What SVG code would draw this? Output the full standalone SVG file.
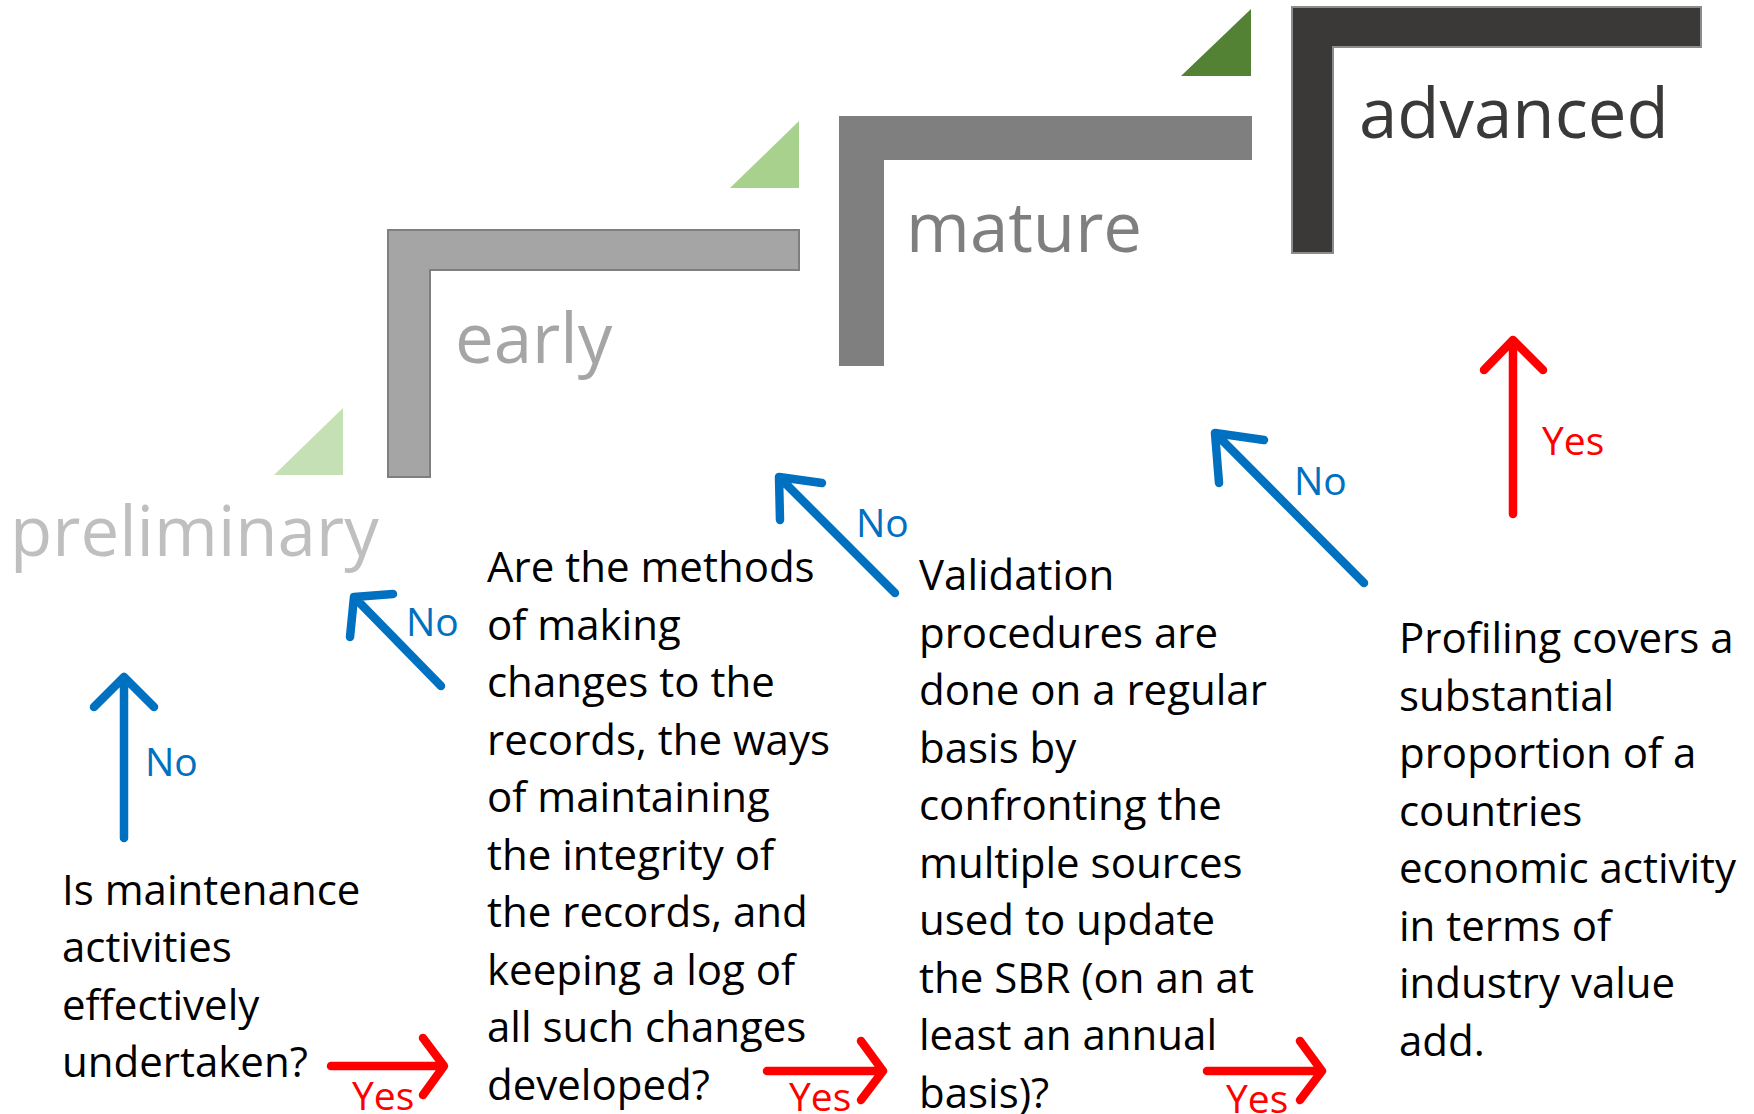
<svg xmlns="http://www.w3.org/2000/svg" width="1754" height="1114" viewBox="0 0 1754 1114">
  <style>
    .stage { font-family: "Open Sans", "Noto Sans", sans-serif; font-size: 69px; }
    .body { font-family: "Open Sans", "Noto Sans", sans-serif; font-size: 42px; fill: #000000; }
    .lbl { font-family: "Open Sans", "Noto Sans", sans-serif; font-size: 39px; }
    .no { fill: #0070c0; }
    .yes { fill: #ff0000; }
    .arr { fill: none; stroke-width: 8.5; stroke-linecap: round; stroke-linejoin: round; }
    .arr-no { stroke: #0070c0; }
    .arr-yes { stroke: #ff0000; }
  </style>
  <rect width="1754" height="1114" fill="#ffffff"/>

  <!-- maturity steps -->
  <g id="stage-preliminary">
    <polygon points="274,475 343,408 343,475" fill="#c5e0b4"/>
    <text class="stage" x="10" y="556" fill="#bfbfbf">preliminary</text>
  </g>
  <g id="stage-early">
    <polygon points="730,188 799,121 799,188" fill="#a9d18e"/>
    <path d="M388,230 H799 V270 H430 V477 H388 Z" fill="#a5a5a5" stroke="#7f7f7f" stroke-width="2"/>
    <text class="stage" x="455" y="363" fill="#a5a5a5">early</text>
  </g>
  <g id="stage-mature">
    <path d="M840,117 H1251 V159 H883 V365 H840 Z" fill="#7f7f7f" stroke="#7f7f7f" stroke-width="2"/>
    <text class="stage" x="906" y="252" fill="#7f7f7f">mature</text>
  </g>
  <g id="stage-advanced">
    <polygon points="1181,76 1251,9 1251,76" fill="#548235"/>
    <path d="M1292,7 H1701 V47 H1333 V253 H1292 Z" fill="#3b3838" stroke="#8c8c8c" stroke-width="2"/>
    <text class="stage" x="1359" y="138" fill="#3b3838">advanced</text>
  </g>

  <!-- questions -->
  <g id="q-maintenance">
    <text class="body">
      <tspan x="62" y="905">Is maintenance</tspan>
      <tspan x="62" y="962">activities</tspan>
      <tspan x="62" y="1020">effectively</tspan>
      <tspan x="62" y="1077">undertaken?</tspan>
    </text>
  </g>
  <g id="q-methods">
    <text class="body">
      <tspan x="487" y="582">Are the methods</tspan>
      <tspan x="487" y="640">of making</tspan>
      <tspan x="487" y="697">changes to the</tspan>
      <tspan x="487" y="755">records, the ways</tspan>
      <tspan x="487" y="812">of maintaining</tspan>
      <tspan x="487" y="870">the integrity of</tspan>
      <tspan x="487" y="927">the records, and</tspan>
      <tspan x="487" y="985">keeping a log of</tspan>
      <tspan x="487" y="1042">all such changes</tspan>
      <tspan x="487" y="1100">developed?</tspan>
    </text>
  </g>
  <g id="q-validation">
    <text class="body">
      <tspan x="919" y="590">Validation</tspan>
      <tspan x="919" y="648">procedures are</tspan>
      <tspan x="919" y="705">done on a regular</tspan>
      <tspan x="919" y="763">basis by</tspan>
      <tspan x="919" y="820">confronting the</tspan>
      <tspan x="919" y="878">multiple sources</tspan>
      <tspan x="919" y="935">used to update</tspan>
      <tspan x="919" y="993">the SBR (on an at</tspan>
      <tspan x="919" y="1050">least an annual</tspan>
      <tspan x="919" y="1108">basis)?</tspan>
    </text>
  </g>
  <g id="q-profiling">
    <text class="body">
      <tspan x="1399" y="653">Profiling covers a</tspan>
      <tspan x="1399" y="711">substantial</tspan>
      <tspan x="1399" y="768">proportion of a</tspan>
      <tspan x="1399" y="826">countries</tspan>
      <tspan x="1399" y="883">economic activity</tspan>
      <tspan x="1399" y="941">in terms of</tspan>
      <tspan x="1399" y="998">industry value</tspan>
      <tspan x="1399" y="1056">add.</tspan>
    </text>
  </g>

  <!-- decision arrows -->
  <g id="connectors">
    <path class="arr arr-no" d="M124,838 V677 M94,707 L124,677 L154,707"/>
    <text class="lbl no" x="145" y="776">No</text>

    <path class="arr arr-no" d="M441,686 L356,599 M393,594 L354,597 L350,637"/>
    <text class="lbl no" x="406" y="636">No</text>

    <path class="arr arr-no" d="M895,593 L781,479 M822,483 L779,477 L780,520"/>
    <text class="lbl no" x="856" y="537">No</text>

    <path class="arr arr-no" d="M1364,583 L1217,435 M1264,440 L1215,433 L1219,483"/>
    <text class="lbl no" x="1294" y="495">No</text>

    <path class="arr arr-yes" d="M1513,514 V341 M1484,370 L1513,340 L1543,370"/>
    <text class="lbl yes" x="1542" y="455">Yes</text>

    <path class="arr arr-yes" d="M331,1066 H442 M423,1038 L444,1066 L423,1095"/>
    <text class="lbl yes" x="352" y="1110">Yes</text>

    <path class="arr arr-yes" d="M767,1071 H880 M861,1041 L883,1071 L861,1100"/>
    <text class="lbl yes" x="789" y="1111">Yes</text>

    <path class="arr arr-yes" d="M1207,1071 H1319 M1300,1041 L1322,1071 L1300,1100"/>
    <text class="lbl yes" x="1226" y="1113">Yes</text>
  </g>
</svg>
